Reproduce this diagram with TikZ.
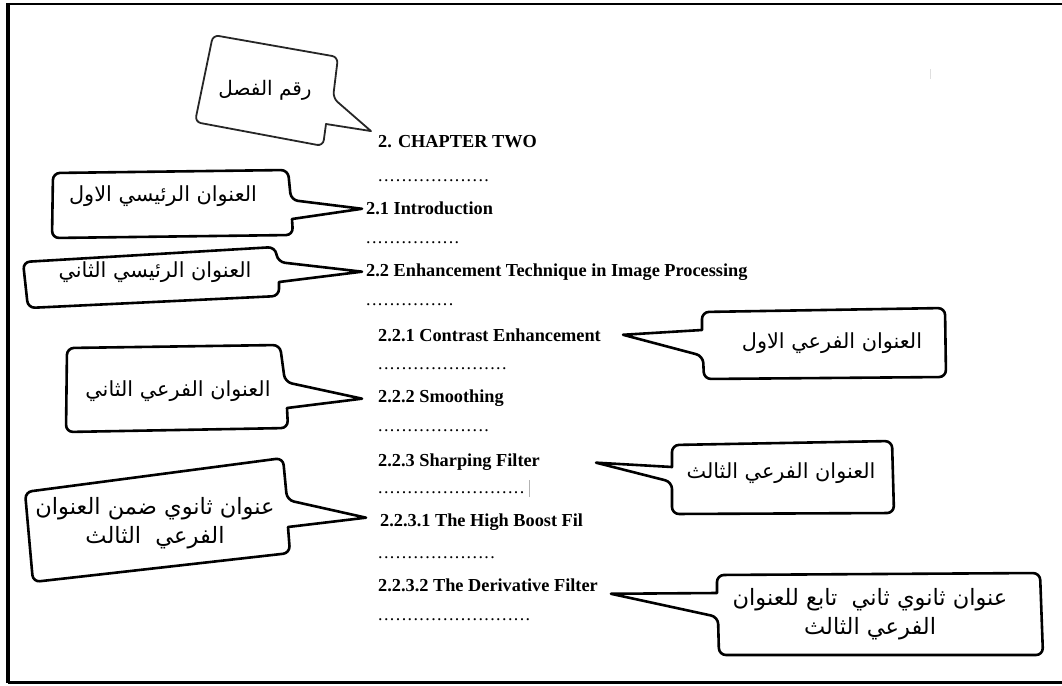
\documentclass[tikz,border=0pt]{standalone}
\usepackage{fontspec}
\setmainfont{Liberation Serif}
\newfontfamily\arabicfont[Script=Arabic]{DejaVu Sans}
\TeXXeTstate=1
\usetikzlibrary{calc}
\newcommand\dotrow[1]{\foreach \k in {1,...,#1}{\makebox[5.9pt][l]{.}}}
\begin{document}
\begin{tikzpicture}[x=1pt,y=-1pt,
  headtxt/.style={anchor=base west, inner sep=0pt, font=\fontsize{18.3}{20}\selectfont\bfseries},
  dotsrow/.style={anchor=base west, inner sep=0pt, font=\fontsize{18}{20}\selectfont},
  bubble/.style={draw=black, line width=2.6pt, rounded corners=7pt, line join=round},
  artext/.style={font=\arabicfont\fontsize{20.8}{27}\selectfont, align=center, inner sep=0pt},
  artwo/.style={artext, font=\arabicfont\fontsize{22.5}{29}\selectfont}]
\useasboundingbox (0,0) rectangle (1062,685);
% frame
\draw[line width=2pt] (1062,4) -- (8,4);
\draw[line width=3.5pt] (8,3) -- (8,683);
\draw[line width=2.5pt] (8,682.5) -- (1062,682.5);
\draw[gray!25, line width=1pt] (930,69) -- (930,79);
% headings
\node[headtxt] (chap) at (378,147) {2. CHAPTER TWO};
\node[dotsrow] (d1) at (378,181) {\dotrow{19}};
\node[headtxt] (h21) at (366,214) {2.1 Introduction};
\node[dotsrow] (d2) at (366,243) {\dotrow{16}};
\node[headtxt] (h22) at (366,276) {2.2 Enhancement Technique in Image Processing};
\node[dotsrow] (d3) at (366,305) {\dotrow{15}};
\node[headtxt] (h221) at (378,341) {2.2.1 Contrast Enhancement};
\node[dotsrow] (d4) at (378,369) {\dotrow{22}};
\node[headtxt] (h222) at (378,402) {2.2.2 Smoothing};
\node[dotsrow] (d5) at (378,431) {\dotrow{19}};
\node[headtxt] (h223) at (378,466) {2.2.3 Sharping Filter};
\node[dotsrow] (d6) at (378,493) {\dotrow{25}};
\node[headtxt] (h2231) at (380,526) {2.2.3.1 The High Boost Fil};
\node[dotsrow] (d7) at (378,558) {\dotrow{20}};
\node[headtxt] (h2232) at (378,591) {2.2.3.2 The Derivative Filter};
\node[dotsrow] (d8) at (378,620) {\dotrow{26}};
\draw[gray!60, line width=0.8pt] ($(d6.east)+(3,-12)$) -- ($(d6.east)+(3,5)$);
% tips
\coordinate (t1) at ($(chap.west)+(-7,-10)$);
\coordinate (t2) at ($(h21.west)+(-4,1)$);
\coordinate (t3) at ($(h22.west)+(-4,0)$);
\coordinate (t4) at ($(h221.east)+(22,0)$);
\coordinate (t5) at ($(h222.west)+(-16,1)$);
\coordinate (t6) at ($(h2231.west)+(-14,-4)$);
\coordinate (t7) at ($(h223.east)+(56,1)$);
\coordinate (t8) at ($(h2232.east)+(13,9)$);
% bubbles
\draw[bubble, line width=1.8pt, draw=black!85, rounded corners=6pt] (213,35) -- (338,57) -- (333,98) [sharp corners] -- (t1) -- (326,124) [rounded corners=6pt] -- (323,146) -- (195,122) -- cycle;
\draw[bubble] (53,173) -- (288,170) -- (291,200) [sharp corners] -- (t2) -- (292,219) [rounded corners=7pt] -- (293,235) -- (52,238) -- cycle;
\draw[bubble] (23,262) -- (275,247) -- (278,262) [sharp corners] -- (t3) -- (279,282) [rounded corners=7pt] -- (279,296) -- (28,308) -- cycle;
\draw[bubble] (702,312) -- (945,308) -- (946,377) -- (704,379) -- (703,356) [sharp corners] -- (t4) -- (702,330) [rounded corners=7pt] -- cycle;
\draw[bubble] (67,348) -- (280,345) -- (285,382) [sharp corners] -- (t5) -- (287,408) [rounded corners=7pt] -- (288,428) -- (66,432) -- cycle;
\draw[bubble] (25,492) -- (283,458) -- (287,500) [sharp corners] -- (t6) -- (288,527) [rounded corners=7pt] -- (290,553) -- (33,582) -- cycle;
\draw[bubble] (672,445) -- (892,441) -- (894,513) -- (672,514) -- (672,482) [sharp corners] -- (t7) -- (672,467) [rounded corners=7pt] -- cycle;
\draw[bubble] (717,575) -- (1040,573) -- (1043,655) -- (719,655) -- (718,617) [sharp corners] -- (t8) -- (717,593) [rounded corners=7pt] -- cycle;
% arabic labels
\node[artext, font=\arabicfont\fontsize{20}{27}\selectfont] (l1) at (265,90) {\beginR رقم الفصل\endR};
\node[artext] (l2) at (163,196) {\beginR العنوان الرئيسي الاول\endR};
\node[artext] (l3) at (155,272) {\beginR العنوان الرئيسي الثاني\endR};
\node[artext] (l4) at (832,343) {\beginR العنوان الفرعي الاول\endR};
\node[artext] (l5) at (178,391) {\beginR العنوان الفرعي الثاني\endR};
\node[artwo] (l6) at (155,523) {\beginR عنوان ثانوي ضمن العنوان\endR\\\beginR الفرعي\ \ الثالث\endR};
\node[artext] (l7) at (781,473) {\beginR العنوان الفرعي الثالث\endR};
\node[artwo] (l8) at (870,614) {\beginR عنوان ثانوي ثاني\ \ تابع للعنوان\endR\\\beginR الفرعي الثالث\endR};
\end{tikzpicture}
\end{document}
